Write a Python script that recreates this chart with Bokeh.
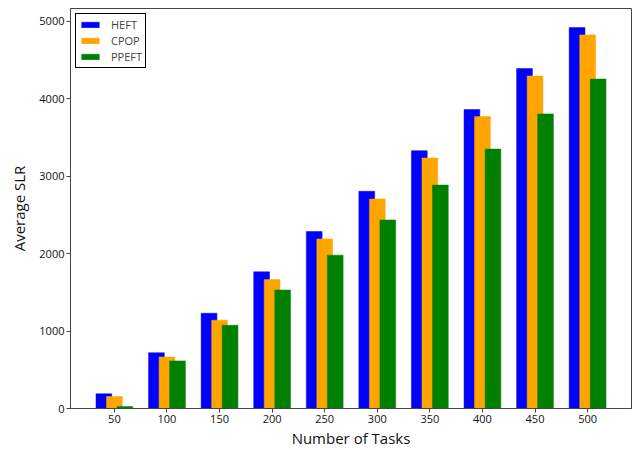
from bokeh.plotting import figure
from bokeh.models import ColumnDataSource, Range1d, FixedTicker, Legend, LegendItem
from bokeh.transform import dodge
from bokeh.embed import file_html
from bokeh.resources import INLINE

tasks = [50, 100, 150, 200, 250, 300, 350, 400, 450, 500]
heft = [190, 720, 1230, 1765, 2285, 2805, 3330, 3860, 4390, 4920]
cpop = [155, 665, 1140, 1665, 2190, 2705, 3235, 3770, 4295, 4825]
ppeft = [25, 615, 1075, 1530, 1980, 2435, 2885, 3350, 3805, 4255]
series_names = ["HEFT", "CPOP", "PPEFT"]
colors = ["#0000ff", "#ffa500", "#008000"]
y_ticks = [0, 1000, 2000, 3000, 4000, 5000]

src = ColumnDataSource(dict(x=tasks, HEFT=heft, CPOP=cpop, PPEFT=ppeft))

step = tasks[1] - tasks[0]
width = 0.3 * step
offsets = [-0.2 * step, 0.0, 0.2 * step]
lo = tasks[0] + offsets[0] - width / 2
hi = tasks[-1] + offsets[-1] + width / 2
pad = 0.05 * (hi - lo)
ymax = max(heft + cpop + ppeft) * 1.05

p = figure(width=635, height=450, output_backend="svg", toolbar_location=None,
           x_range=Range1d(lo - pad, hi + pad), y_range=Range1d(0, ymax),
           min_border_left=70, min_border_right=4, min_border_top=8, min_border_bottom=0)

items = []
for name, col, off in zip(series_names, colors, offsets):
    r = p.vbar(x=dodge("x", off), top=name, width=width, source=src,
               fill_color=col, line_color=col, line_width=0.5)
    items.append(LegendItem(label=name, renderers=[r]))

legend = Legend(items=items, location="top_left", border_line_color="black",
                border_line_width=1, border_line_alpha=1, background_fill_alpha=1,
                label_text_font="Open Sans", label_text_font_size="11px",
                glyph_width=22, glyph_height=7, label_height=12, spacing=1,
                padding=3, margin=5, label_standoff=10)
p.add_layout(legend)

p.xgrid.visible = False
p.ygrid.visible = False
p.outline_line_color = "#444444"
p.outline_line_width = 1

p.xaxis.ticker = FixedTicker(ticks=tasks)
p.yaxis.ticker = FixedTicker(ticks=y_ticks)
for ax in (p.xaxis[0], p.yaxis[0]):
    ax.axis_line_color = "#444444"
    ax.major_tick_line_color = "#444444"
    ax.major_tick_out = 4
    ax.major_tick_in = 0
    ax.minor_tick_out = 0
    ax.minor_tick_in = 0
    ax.major_label_text_font = "Open Sans"
    ax.major_label_text_font_size = "11px"
    ax.major_label_text_color = "#111111"
    ax.axis_label_text_font = "Open Sans"
    ax.axis_label_text_font_size = "15px"
    ax.axis_label_text_font_style = "normal"
    ax.axis_label_text_color = "#111111"
    ax.major_label_standoff = 2

p.xaxis.axis_label = "Number of Tasks"
p.yaxis.axis_label = "Average SLR"
p.xaxis.axis_label_standoff = 2
p.yaxis.axis_label_standoff = 7

open("out.html", "w").write(file_html(p, INLINE))
